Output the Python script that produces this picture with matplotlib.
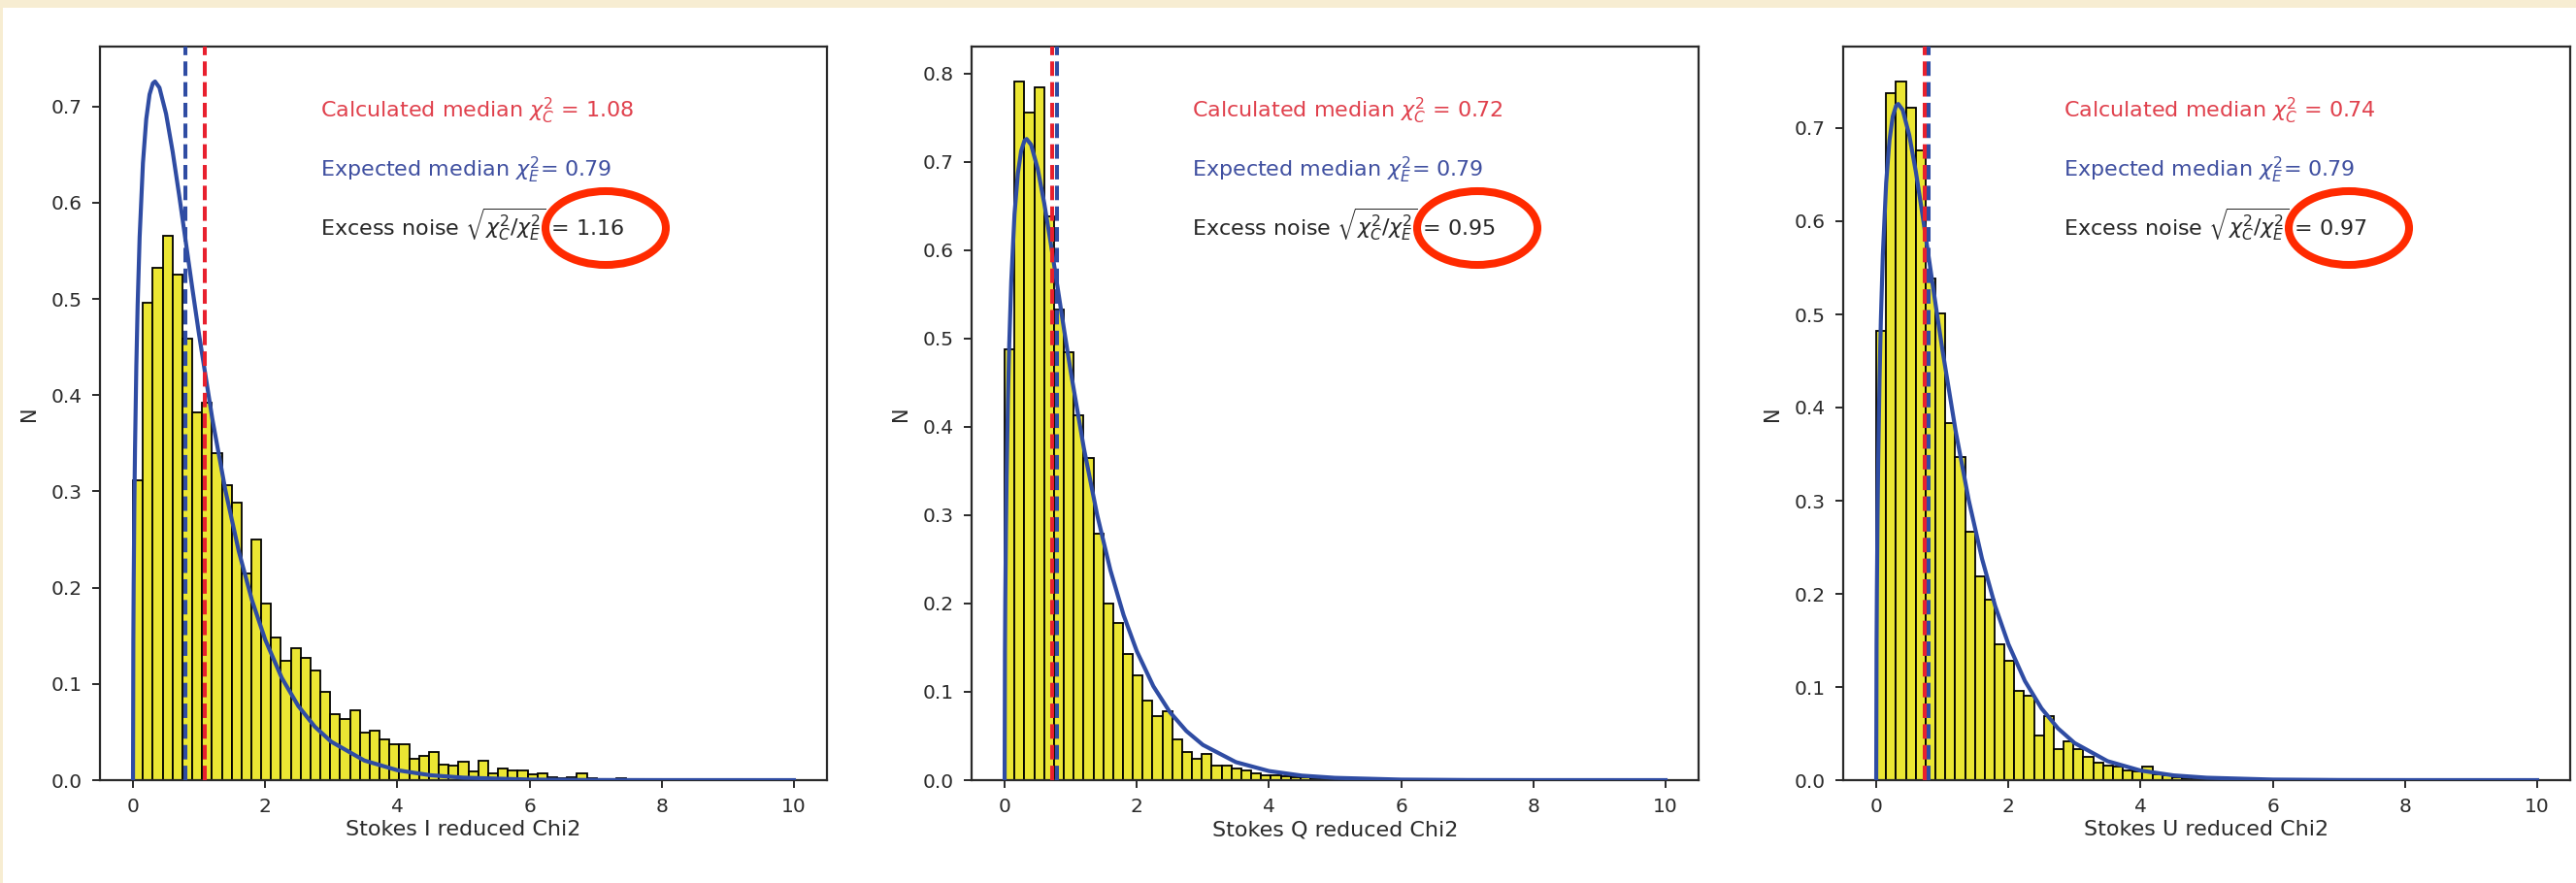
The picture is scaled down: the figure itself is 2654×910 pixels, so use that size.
import numpy as np
import matplotlib
matplotlib.use("Agg")
import matplotlib.pyplot as plt
from matplotlib.patches import Ellipse, Rectangle

# ---------------- data ----------------
n_bins = 67
x_range = (0.0, 10.0)

hist_I = [0.312, 0.496, 0.532, 0.566, 0.525, 0.459, 0.382, 0.392, 0.340, 0.306,
          0.288, 0.215, 0.250, 0.183, 0.148, 0.124, 0.137, 0.127, 0.114, 0.092,
          0.069, 0.064, 0.073, 0.049, 0.051, 0.042, 0.037, 0.037, 0.022, 0.025,
          0.029, 0.016, 0.015, 0.019, 0.009, 0.020, 0.007, 0.012, 0.010, 0.010,
          0.006, 0.007, 0.003, 0.002, 0.003, 0.007, 0.002, 0.001, 0.001, 0.002,
          0.001, 0.000, 0.001, 0.000, 0.001]
hist_Q = [0.488, 0.791, 0.756, 0.784, 0.638, 0.533, 0.485, 0.413, 0.365, 0.279,
          0.200, 0.178, 0.143, 0.119, 0.090, 0.073, 0.078, 0.046, 0.032, 0.024,
          0.030, 0.017, 0.017, 0.013, 0.011, 0.008, 0.006, 0.005, 0.004, 0.003,
          0.003, 0.002, 0.002, 0.001, 0.003]
hist_U = [0.482, 0.738, 0.750, 0.722, 0.676, 0.539, 0.501, 0.383, 0.347, 0.267,
          0.219, 0.194, 0.146, 0.128, 0.096, 0.091, 0.048, 0.069, 0.033, 0.042,
          0.033, 0.025, 0.019, 0.016, 0.015, 0.010, 0.009, 0.015, 0.006, 0.005,
          0.003, 0.002, 0.001, 0.001]

# expected reduced chi2 curve
curve_x = [0.0, 0.005, 0.01, 0.02, 0.03, 0.05, 0.07, 0.1, 0.15, 0.2, 0.25, 0.3,
           0.333, 0.4, 0.5, 0.6, 0.7, 0.8, 0.9, 1.0, 1.2, 1.4, 1.6, 1.8, 2.0,
           2.25, 2.5, 2.75, 3.0, 3.5, 4.0, 4.5, 5.0, 6.0, 7.0, 8.0, 10.0]
curve_y = [0.0, 0.1455, 0.2042, 0.2845, 0.3433, 0.4300, 0.4938, 0.5642, 0.6411,
           0.6868, 0.7124, 0.7240, 0.7259, 0.7195, 0.6924, 0.6529, 0.6069, 0.5585,
           0.5098, 0.4626, 0.3754, 0.3004, 0.2379, 0.1869, 0.1460, 0.1064, 0.0771,
           0.0556, 0.0399, 0.0204, 0.0103, 0.0051, 0.0026, 0.0006, 0.00015,
           0.00004, 0.0]

stokes = ["I", "Q", "U"]
calc_median = [1.08, 0.72, 0.74]
exp_median = [0.79, 0.79, 0.79]
excess = [1.16, 0.95, 0.97]
hists = [hist_I, hist_Q, hist_U]

# ---------------- style ----------------
W, H = 2654, 910
cream = "#f7edd2"
bar_face = "#ebe633"
curve_col = "#2f4ca3"
red_line = "#e8202e"
blue_line = "#2f4ca3"
red_txt = "#e0404c"
blue_txt = "#3f4fa0"
black_txt = "#262626"
circle_col = "#ff2a00"
ink = "#2a2a2a"

plt.rcParams['font.family'] = ['DejaVu Sans']

fig = plt.figure(figsize=(W / 100, H / 100), dpi=100, facecolor=cream)
fig.patches.append(Rectangle((3 / W, 0), 1, (H - 8) / H, transform=fig.transFigure,
                             facecolor="white", edgecolor="none", zorder=-10))

ax_left_px = [103, 1001, 1899]
ax_w_px = 749
ax_top_px, ax_bot_px = 48, 804

edges = np.linspace(x_range[0], x_range[1], n_bins + 1)
width = edges[1] - edges[0]

for i in range(3):
    l = ax_left_px[i] / W
    b = (H - ax_bot_px) / H
    ax = fig.add_axes([l, b, ax_w_px / W, (ax_bot_px - ax_top_px) / H])
    h = np.zeros(n_bins)
    h[:len(hists[i])] = hists[i]
    ax.bar(edges[:-1], h, width=width, align='edge', color=bar_face,
           edgecolor='black', linewidth=1.3, zorder=2)
    ax.plot(curve_x, curve_y, color=curve_col, lw=3.0, zorder=3)
    ax.axvline(exp_median[i], color=blue_line, ls='--', lw=2.9, zorder=4)
    ax.axvline(calc_median[i], color=red_line, ls='--', lw=2.9, zorder=4)
    ax.set_xlim(-0.5, 10.5)
    ax.set_xticks([0, 2, 4, 6, 8, 10])
    for s in ax.spines.values():
        s.set_linewidth(1.6)
        s.set_color(ink)
    ax.tick_params(labelsize=14.5, length=6, width=1.4, pad=7, colors=ink)
    ax.set_xlabel(f"Stokes {stokes[i]} reduced Chi2", fontsize=16, labelpad=3,
                  color=ink)
    ax.set_ylabel("N", fontsize=15, labelpad=9, color=ink)

    ax.text(0.303, 0.903, r"Calculated median $\chi^2_C$ = %.2f" % calc_median[i],
            transform=ax.transAxes, fontsize=16, color=red_txt)
    ax.text(0.303, 0.823, r"Expected median $\chi^2_E$= %.2f" % exp_median[i],
            transform=ax.transAxes, fontsize=16, color=blue_txt)
    ax.text(0.303, 0.743, r"Excess noise $\sqrt{\chi^2_C/\chi^2_E}$ = %.2f" % excess[i],
            transform=ax.transAxes, fontsize=16, color=black_txt)

    ell = Ellipse((521 / ax_w_px, (ax_bot_px - 235) / (ax_bot_px - ax_top_px)),
                  124 / ax_w_px, 76 / (ax_bot_px - ax_top_px),
                  transform=ax.transAxes, fill=False, edgecolor=circle_col,
                  lw=5.8, clip_on=False, zorder=10)
    ax.add_patch(ell)

fig.savefig("out.png", dpi=100, facecolor=fig.get_facecolor())
